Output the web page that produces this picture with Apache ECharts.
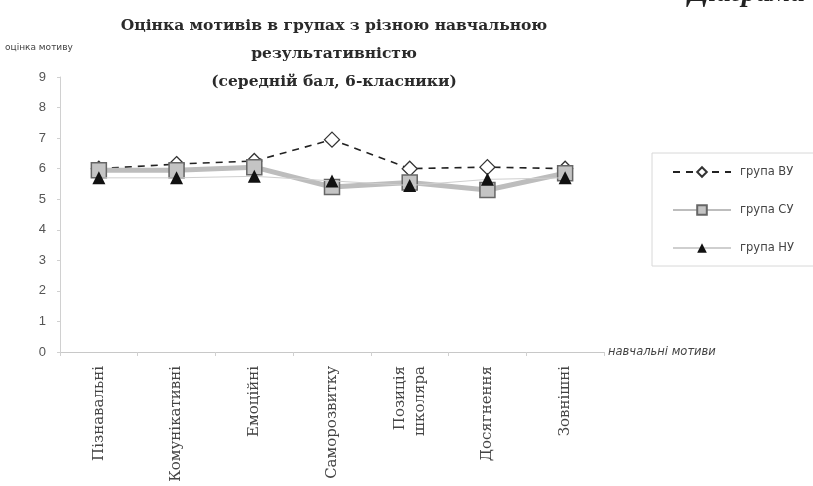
<!DOCTYPE html>
<html>
<head>
<meta charset="utf-8">
<script src="https://cdn.jsdelivr.net/npm/echarts@6/dist/echarts.min.js"></script>
<style>html,body{margin:0;padding:0;background:#fff;}#c{width:813px;height:486px;}</style>
</head>
<body>
<div id="c"></div>
<script>
var categories = ['Пізнавальні', 'Комунікативні', 'Емоційні', 'Саморозвитку', 'Позиція\nшколяра', 'Досягнення', 'Зовнішні'];
var seriesNames = ['група ВУ', 'група СУ', 'група НУ'];
var valuesVU = [6.0, 6.15, 6.25, 6.95, 6.0, 6.05, 6.0];
var valuesSU = [5.95, 5.95, 6.05, 5.4, 5.55, 5.3, 5.85];
var valuesNU = [5.7, 5.7, 5.75, 5.6, 5.45, 5.65, 5.7];
var yTicks = [0, 1, 2, 3, 4, 5, 6, 7, 8, 9];

var chart = echarts.init(document.getElementById('c'));
chart.setOption({
  backgroundColor: '#fff',
  animation: false,
  title: {
    text: 'Оцінка мотивів в групах з різною навчальною\nрезультативністю\n(середній бал, 6-класники)',
    left: 329, top: 7, textAlign: 'center',
    textStyle: { fontFamily: 'DejaVu Serif', fontWeight: 'bold', fontSize: 15.5, lineHeight: 28, color: '#2a2a2a' }
  },
  graphic: [{
    type: 'text', x: 805, y: 8,
    style: { text: 'Діаграма', font: 'italic bold 29px "Liberation Serif"', fill: '#222', align: 'right', verticalAlign: 'bottom' }
  }],
  legend: {
    orient: 'vertical', left: 652, top: 153,
    itemWidth: 58, itemHeight: 12, itemGap: 26,
    borderColor: '#d8d8d8', borderWidth: 1, padding: [13, 40, 12, 20],
    textStyle: { fontFamily: 'DejaVu Sans', fontSize: 11.5, color: '#444', padding: [0, 0, 0, 4] },
    data: seriesNames
  },
  grid: { left: 60, right: 209, top: 77, bottom: 134, containLabel: false },
  xAxis: {
    type: 'category', data: categories, boundaryGap: true,
    name: 'навчальні мотиви', nameLocation: 'end', nameGap: 4,
    nameTextStyle: { fontFamily: 'DejaVu Sans', fontStyle: 'italic', fontSize: 11.5, color: '#444', verticalAlign: 'middle' },
    axisLine: { lineStyle: { color: '#c8c8c8', width: 1 } },
    axisTick: { show: true, alignWithLabel: false, length: 4, lineStyle: { color: '#d0d0d0' } },
    axisLabel: { rotate: 90, interval: 0, margin: 14, fontFamily: 'DejaVu Serif', fontSize: 15, lineHeight: 20, color: '#444' }
  },
  yAxis: {
    type: 'value', min: 0, max: 9, interval: 1,
    name: 'оцінка мотиву', nameLocation: 'end', nameGap: 25,
    nameTextStyle: { fontFamily: 'DejaVu Sans', fontSize: 9, color: '#444', align: 'left', padding: [0, 0, 0, -55] },
    axisLine: { show: true, lineStyle: { color: '#d0d0d0', width: 1 } },
    axisTick: { show: true, length: 3, lineStyle: { color: '#d0d0d0' } },
    splitLine: { show: false },
    axisLabel: { margin: 14, fontFamily: 'Liberation Sans', fontSize: 13, color: '#555',
      formatter: function (v) { return yTicks.indexOf(v) >= 0 ? String(v) : ''; } }
  },
  series: [
    {
      name: seriesNames[0], type: 'line', data: valuesVU, z: 3,
      symbol: 'diamond', symbolSize: 15,
      lineStyle: { color: '#222', width: 1.6, type: [7, 6] },
      itemStyle: { color: '#fff', borderColor: '#333', borderWidth: 1.3 }
    },
    {
      name: seriesNames[1], type: 'line', data: valuesSU, z: 4,
      symbol: 'rect', symbolSize: 15,
      lineStyle: { color: '#bdbdbd', width: 5 },
      itemStyle: { color: '#c4c4c4', borderColor: '#666', borderWidth: 1.5 }
    },
    {
      name: seriesNames[2], type: 'line', data: valuesNU, z: 5,
      symbol: 'triangle', symbolSize: 13,
      lineStyle: { color: '#cfcfcf', width: 1 },
      itemStyle: { color: '#111', borderColor: '#111', borderWidth: 0 }
    }
  ]
});
</script>
</body>
</html>
